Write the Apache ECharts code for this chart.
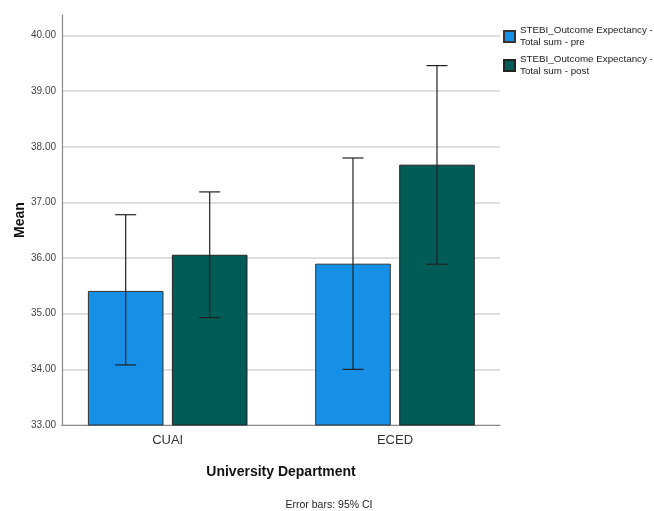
<!DOCTYPE html>
<html><head><meta charset="utf-8">
<script src="https://cdn.jsdelivr.net/npm/echarts@6/dist/echarts.min.js"></script>
<style>html,body{margin:0;padding:0;background:#fff}#c{width:654px;height:511px}</style>
</head><body><div id="c"></div>
<script>
var categories = ['CUAI', 'ECED'];
var seriesNames = ['STEBI_Outcome Expectancy -\nTotal sum - pre', 'STEBI_Outcome Expectancy -\nTotal sum - post'];
var preMean = [35.41, 35.90];
var postMean = [36.06, 37.68];
var preLow = [34.08, 34.00];
var preHigh = [36.78, 37.80];
var postLow = [34.93, 35.89];
var postHigh = [37.19, 39.46];

var FONT = '"Liberation Sans", Arial, sans-serif';
var BAR_W = 75.6, BAR_GAP = 8.4;

function pts(vals) { return categories.map(function (c, i) { return [i, vals[i]]; }); }
function errSeries(name, low, high, sign) {
  return {
    type: 'custom', name: name + '_err', silent: true, z: 5,
    data: categories.map(function (c, i) { return [i, low[i], high[i]]; }),
    encode: { x: 0, y: [1, 2] },
    renderItem: function (params, api) {
      var i = api.value(0);
      var lo = api.coord([i, api.value(1)]);
      var hi = api.coord([i, api.value(2)]);
      var x = lo[0] + sign * (BAR_W + BAR_GAP) / 2;
      var cap = 10.5;
      var style = { stroke: '#222', lineWidth: 1.2 };
      return { type: 'group', children: [
        { type: 'line', shape: { x1: x, y1: hi[1], x2: x, y2: lo[1] }, style: style },
        { type: 'line', shape: { x1: x - cap, y1: hi[1], x2: x + cap, y2: hi[1] }, style: style },
        { type: 'line', shape: { x1: x - cap, y1: lo[1], x2: x + cap, y2: lo[1] }, style: style }
      ]};
    }
  };
}

var chart = echarts.init(document.getElementById('c'));
chart.setOption({
  animation: false,
  backgroundColor: '#fff',
  textStyle: { fontFamily: FONT },
  grid: { left: 62, right: 154, top: 15, bottom: 86 },
  legend: {
    data: seriesNames, orient: 'vertical', left: 498, top: 20,
    itemWidth: 11, itemHeight: 11, itemGap: 6,
    textStyle: { fontFamily: FONT, fontSize: 9.8, color: '#222', lineHeight: 11.5 },
    icon: 'rect'
  },
  xAxis: {
    type: 'value', min: -0.465, max: 1.462,
    name: 'University Department', nameLocation: 'middle', nameGap: 40,
    nameTextStyle: { fontFamily: FONT, fontSize: 14, fontWeight: 'bold', color: '#111' },
    axisLine: { show: true, onZero: false, lineStyle: { color: '#888', width: 1.2 } },
    axisTick: { show: false },
    splitLine: { show: false },
    axisLabel: { fontFamily: FONT, fontSize: 13, color: '#333', margin: 9,
      customValues: [0, 1],
      formatter: function (v) { return categories[Math.round(v)]; } }
  },
  yAxis: {
    type: 'value', min: 33, max: 40.37, interval: 1,
    name: 'Mean', nameLocation: 'middle', nameGap: 35, nameMoveOverlap: false,
    nameTextStyle: { fontFamily: FONT, fontSize: 14, fontWeight: 'bold', color: '#111' },
    axisLine: { show: true, onZero: false, lineStyle: { color: '#888', width: 1.2 } },
    axisTick: { show: false },
    axisLabel: { fontFamily: FONT, fontSize: 10, color: '#444', margin: 6, showMaxLabel: false,
      formatter: function (v) { return v.toFixed(2); } },
    splitLine: { show: true, showMaxLine: false, lineStyle: { color: '#d4d4d4', width: 1.5 } }
  },
  graphic: [{
    type: 'text', x: 329, y: 500, z: 10,
    style: { text: 'Error bars: 95% CI', fontFamily: FONT, fontSize: 10.5, fill: '#222', textAlign: 'center' }
  }],
  series: [
    { type: 'bar', name: seriesNames[0], data: pts(preMean), barWidth: BAR_W, barGap: (BAR_GAP / BAR_W * 100) + '%',
      itemStyle: { color: '#1590E6', borderColor: '#333', borderWidth: 1 } },
    { type: 'bar', name: seriesNames[1], data: pts(postMean), barWidth: BAR_W,
      itemStyle: { color: '#015C58', borderColor: '#222', borderWidth: 1 } },
    errSeries('pre', preLow, preHigh, -1),
    errSeries('post', postLow, postHigh, 1)
  ]
});
</script></body></html>
